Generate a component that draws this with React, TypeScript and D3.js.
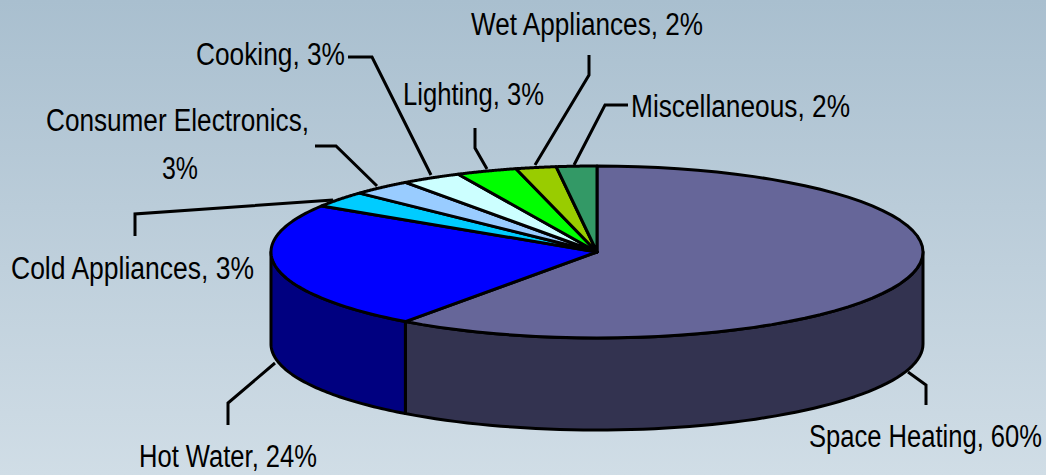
import React from "react";
import * as d3 from "d3";

const categories = ["Space Heating","Hot Water","Cold Appliances","Consumer Electronics","Cooking","Lighting","Wet Appliances","Miscellaneous"];
const shares = [60,24,3,3,3,3,2,2];
const topColors = ["#666699","#0000ff","#00ccff","#99ccff","#ccffff","#00ff00","#99cc00","#339966"];
const wallColors = ["#333350","#000080"];

type Lbl = { lines: string[]; xs: number[]; ys: number[]; w: number[] };
const labels: Lbl[] = [
  { lines: ["Space Heating, 60%"], xs: [809], ys: [447], w: [233] },
  { lines: ["Hot Water, 24%"], xs: [139], ys: [467], w: [178] },
  { lines: ["Cold Appliances, 3%"], xs: [11], ys: [279], w: [243] },
  { lines: ["Consumer Electronics,", "3%"], xs: [46, 162], ys: [131, 179], w: [263, 36] },
  { lines: ["Cooking, 3%"], xs: [196], ys: [65], w: [149] },
  { lines: ["Lighting, 3%"], xs: [403], ys: [105], w: [141] },
  { lines: ["Wet Appliances, 2%"], xs: [471], ys: [35], w: [232] },
  { lines: ["Miscellaneous, 2%"], xs: [631], ys: [117], w: [219] },
];
const leaders: [number, number][][] = [
  [[908,372],[926,385],[926,405]],
  [[275,363],[228,403],[228,425]],
  [[135,236],[135,214],[333,200]],
  [[315,146],[336,146],[377,186]],
  [[348,57],[372,57],[431,175]],
  [[475,128],[475,148],[487,169]],
  [[589,55],[589,75],[535,165]],
  [[628,105],[605,105],[574,165]],
];

const W = 1046, H = 475;
const cx = 597, cy = 252, rx = 326, ry = 86, depth = 92;

const px = (a: number) => cx + rx * Math.sin(a);
const py = (a: number) => cy - ry * Math.cos(a);
const arcPts = (a0: number, a1: number): [number, number][] =>
  d3.range(0, 61).map(i => {
    const a = a0 + ((a1 - a0) * i) / 60;
    return [px(a), py(a)] as [number, number];
  });
const line = d3.line();

export default function App() {
  const pie = d3.pie<number>().sort(null)(shares);
  const sides = [
    { a0: Math.PI / 2, a1: pie[0].endAngle, fill: wallColors[0] },
    { a0: pie[1].startAngle, a1: (3 * Math.PI) / 2, fill: wallColors[1] },
  ];
  return (
    <svg width={W} height={H} viewBox={`0 0 ${W} ${H}`} style={{ position: "fixed", left: 0, top: 0, display: "block" }}>
      <defs>
        <linearGradient id="bg" x1="0" y1="0" x2="0" y2="1">
          <stop offset="0" stopColor="#a9bfcf" />
          <stop offset="1" stopColor="#d0dde6" />
        </linearGradient>
      </defs>
      <rect width={W} height={H} fill="url(#bg)" />
      {sides.map((s, i) => {
        const top = arcPts(s.a0, s.a1);
        const bottom = top.map(([x, y]) => [x, y + depth] as [number, number]).reverse();
        return <path key={i} d={line([...top, ...bottom])! + "Z"} fill={s.fill} stroke="#000" strokeWidth={3} strokeLinejoin="round" />;
      })}
      {pie.map((p, i) => (
        <path key={categories[i]} d={line([[cx, cy], ...arcPts(p.startAngle, p.endAngle)])! + "Z"} fill={topColors[i]} stroke="#000" strokeWidth={3} strokeLinejoin="round" />
      ))}
      {leaders.map((l, i) => (
        <path key={i} d={line(l)!} fill="none" stroke="#000" strokeWidth={3} />
      ))}
      {labels.map((l, i) =>
        l.lines.map((t, j) => (
          <text key={`${i}-${j}`} x={l.xs[j]} y={l.ys[j]} fontFamily="Liberation Sans" fontSize={31} fill="#000" textLength={l.w[j]} lengthAdjust="spacingAndGlyphs">
            {t}
          </text>
        ))
      )}
    </svg>
  );
}
